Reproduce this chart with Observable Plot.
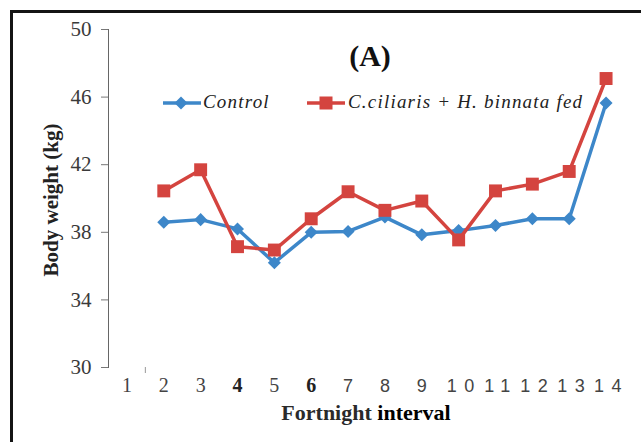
<!DOCTYPE html>
<html><head><meta charset="utf-8">
<script src="https://cdn.jsdelivr.net/npm/d3@7"></script>
<script src="https://cdn.jsdelivr.net/npm/@observablehq/plot@0.6"></script>
<style>
body{margin:0;background:#fff;}
#wrap{position:relative;width:641px;height:442px;overflow:hidden;background:#fff;}
#frame{position:absolute;left:10px;top:10px;width:640px;height:440px;border-left:3px solid #141414;border-top:3px solid #141414;pointer-events:none;}
.ov{position:absolute;white-space:nowrap;font-family:"Liberation Serif","Times New Roman",serif;line-height:1;}
</style></head><body><div id="wrap"></div>
<script>
// ---- data ----
const fortnights = [1,2,3,4,5,6,7,8,9,10,11,12,13,14];
const measuredFortnights = [2,3,4,5,6,7,8,9,10,11,12,13,14];
const controlWeight = [38.6,38.75,38.2,36.2,38.0,38.05,38.9,37.85,38.1,38.4,38.8,38.8,45.65];
const treatedWeight = [40.45,41.7,37.15,36.95,38.8,40.4,39.3,39.85,37.55,40.45,40.85,41.6,47.1];
const yTicks = [30,34,38,42,46,50];
const boundaryTicks = [1.5];
// tick label groups (as drawn in the original figure)
const serifPlainLabels = [1,2,3,5];
const serifBoldLabels = [4,6];
const sansSingleLabels = [7,8,9];
const sansDoubleLabels = [10,11,12,13,14];

const blue = "#3d87c9";
const red = "#d4443f";
const serif = '"Liberation Serif", "Times New Roman", serif';
const sans = '"Liberation Sans", Arial, sans-serif';

const controlData = measuredFortnights.map((f,i)=>({f, w: controlWeight[i]}));
const treatedData = measuredFortnights.map((f,i)=>({f, w: treatedWeight[i]}));

const diamond = {draw(ctx, size){ const r = Math.sqrt(size/2); ctx.moveTo(0,-r); ctx.lineTo(r,0); ctx.lineTo(0,r); ctx.lineTo(-r,0); ctx.closePath(); }};

const chart = Plot.plot({
  width: 641, height: 442,
  marginLeft: 108, marginRight: 17, marginTop: 29, marginBottom: 75,
  style: {fontFamily: serif, background: "transparent", overflow: "visible"},
  x: {type: "linear", domain: [0.5, 14.5]},
  y: {domain: [30, 50]},
  marks: [
    Plot.frame({anchor: "left", stroke: "#666", strokeWidth: 1}),
    Plot.axisY({ticks: yTicks, tickSize: 7, tickPadding: 10, fontSize: 21, fill: "#3a3a3a", stroke: "#777", label: null, fontFamily: serif}),
    Plot.axisX({ticks: boundaryTicks, tickSize: 6, tickFormat: () => "", stroke: "#999", label: null}),
    Plot.text(serifPlainLabels, {x: d=>d, text: d=>String(d), frameAnchor: "bottom", dy: 24, fontSize: 20, fontFamily: serif, fill: "#444"}),
    Plot.text(serifBoldLabels, {x: d=>d, text: d=>String(d), frameAnchor: "bottom", dy: 24, fontSize: 20, fontWeight: "bold", fontFamily: serif, fill: "#222"}),
    Plot.text(sansSingleLabels, {x: d=>d, text: d=>String(d), frameAnchor: "bottom", dy: 24, fontSize: 18, fontFamily: sans, fill: "#444"}),
    Plot.text(sansDoubleLabels, {x: d=>d, text: d=>String(d), frameAnchor: "bottom", dy: 24, dx: 5.5, fontSize: 18, fontFamily: sans, fill: "#444"}),
    Plot.line(controlData, {x: "f", y: "w", stroke: blue, strokeWidth: 3.5}),
    Plot.dot(controlData, {x: "f", y: "w", symbol: diamond, r: 5.2, fill: blue, stroke: "none"}),
    Plot.line(treatedData, {x: "f", y: "w", stroke: red, strokeWidth: 3.5}),
    Plot.dot(treatedData, {x: "f", y: "w", symbol: "square", r: 7.3, fill: red, stroke: "none"})
  ]
});

// letter-spaced two-digit tick labels, as in the original
const spaced = new Set(sansDoubleLabels.map(String));
d3.select(chart).selectAll("text").filter(function(){ return spaced.has(this.textContent); })
  .style("letter-spacing", "7.5px");

const wrap = document.getElementById("wrap");
wrap.appendChild(chart);

function ov(html, css){ const d = document.createElement("div"); d.className = "ov"; d.innerHTML = html; Object.assign(d.style, css); wrap.appendChild(d); return d; }

// title
ov("(A)", {left: "370px", top: "56px", transform: "translate(-50%,-50%)", fontSize: "30px", fontWeight: "bold", color: "#111"});
// axis titles
ov("Body weight (kg)", {left: "51px", top: "200px", transform: "translate(-50%,-50%) rotate(-90deg)", fontSize: "21px", fontWeight: "bold", color: "#222"});
ov('<span style="color:#2a2a2a">Fortnight</span> <span style="color:#000">interval</span>', {left: "366px", top: "413px", transform: "translate(-50%,-50%)", fontSize: "22px", fontWeight: "bold"});

// legend
const sw1 = `<svg width="38" height="14" style="vertical-align:middle"><line x1="0" y1="7" x2="38" y2="7" stroke="${blue}" stroke-width="3.5"/><path d="M18,0.5L24.5,7L18,13.5L11.5,7Z" fill="${blue}"/></svg>`;
const sw2 = `<svg width="38" height="14" style="vertical-align:middle"><line x1="0" y1="7" x2="38" y2="7" stroke="${red}" stroke-width="3.5"/><rect x="12.5" y="0.5" width="13" height="13" fill="${red}"/></svg>`;
ov(sw1, {left: "163px", top: "94px"});
ov("Control", {left: "203px", top: "101px", transform: "translateY(-50%)", fontSize: "19px", fontStyle: "italic", letterSpacing: "1.2px", color: "#222"});
ov(sw2, {left: "307px", top: "94px"});
ov("C.ciliaris + H. binnata fed", {left: "348px", top: "101px", transform: "translateY(-50%)", fontSize: "19px", fontStyle: "italic", letterSpacing: "1.2px", color: "#222"});

const fr = document.createElement("div"); fr.id = "frame"; wrap.appendChild(fr);
</script>
</body></html>
